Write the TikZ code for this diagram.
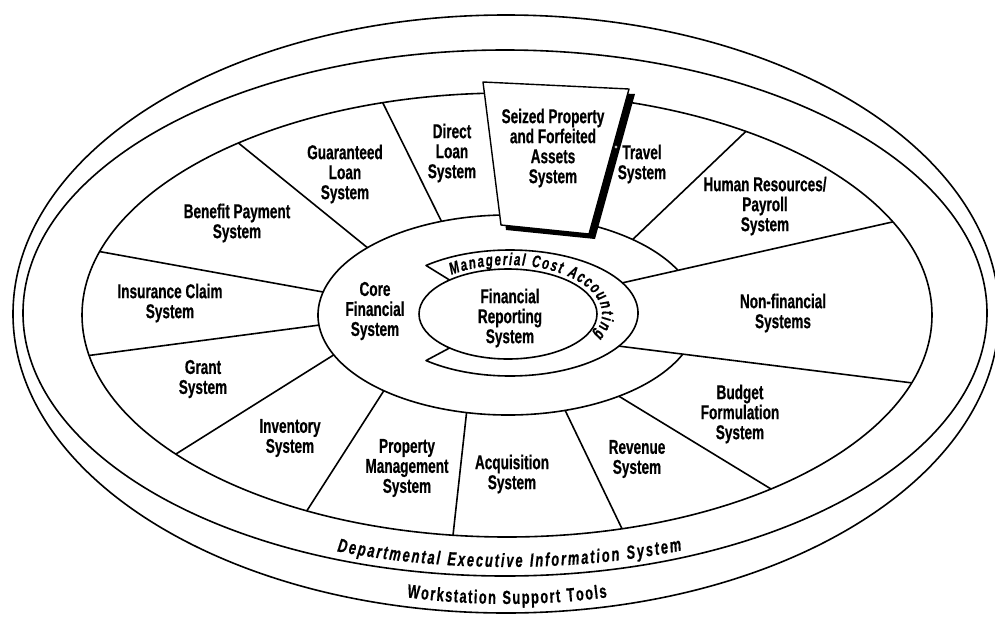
\documentclass[tikz,border=0pt]{standalone}
\usepackage{fontspec}
\newfontfamily\lblfam{Liberation Sans}[FakeStretch=0.68,FakeBold=0.6]
\usetikzlibrary{calc,decorations.text}
\newcommand\lblfont{\lblfam\bfseries\fontsize{20}{20}\selectfont}
\newcommand\mcafont{\lblfam\bfseries\itshape\fontsize{17}{17}\selectfont}
\newcommand\deptfont{\lblfam\bfseries\itshape\fontsize{19}{19}\selectfont}
\newcommand\wsfont{\lblfam\bfseries\fontsize{19}{19}\selectfont}
\begin{document}
\begin{tikzpicture}[x=1pt,y=-1pt,line width=1.6pt,line join=round,
  lbl/.style={align=center,font=\lblfont,inner sep=0pt},
  ring/.style={draw=black},
  boxshadow/.style={fill=black},
  boxface/.style={draw=black,fill=white,line width=1.4pt}]
\useasboundingbox (0,0) rectangle (995,616);
\clip (0,0) rectangle (995,616);

% centres
\coordinate (O1) at (506,314);
\coordinate (O2) at (505,313);
\coordinate (W) at (507,315);
\coordinate (C) at (508,315);
\coordinate (M) at (510,313);
\coordinate (F) at (508,314);

% outer rings
\draw[ring] (O1) ellipse[x radius=493, y radius=299];
\draw[ring] (O2) ellipse[x radius=482, y radius=263];
\draw[ring] (W) ellipse[x radius=425, y radius=222];

% core financial system (open on the right)
\draw[ring] ($(C)+(-26.8:190 and 100)$) coordinate (coreA)
  arc[start angle=-26.8, end angle=-336.5, x radius=190, y radius=100] coordinate (coreB);

% spokes: core ellipse to wedge ellipse
\foreach \a/\b/\n in {-166.7/-163.4/s1, -137.7/-129.2/s2, -110.5/-107/s3,
  -49/-55.8/s6, 54.3/51.6/s9, 72.5/74.3/s10, 102.6/97.3/s11,
  130.8/118.1/s12, 156.5/141.2/s13, 174.2/169.5/s14}
  \draw[ring] ($(C)+(\a:190 and 100)$) coordinate (\n i) -- ($(W)+(\b:425 and 222)$) coordinate (\n o);
% spokes of non-financial systems: MCA ellipse to wedge ellipse
\draw[ring] ($(M)+(-28.6:128 and 63)$) coordinate (s7i) -- ($(W)+(-24.8:425 and 222)$) coordinate (s7o);
\draw[ring] ($(M)+(31.7:128 and 63)$) coordinate (s8i) -- ($(W)+(17.8:425 and 222)$) coordinate (s8o);

% managerial cost accounting band
\draw[ring] ($(F)+(-131:89 and 45)$) coordinate (mcaA) -- ($(M)+(-131:128 and 63)$)
  arc[start angle=-131, end angle=131, x radius=128, y radius=63]
  -- ($(F)+(131:89 and 45)$) coordinate (mcaB);
\draw[ring] (F) ellipse[x radius=89, y radius=45];

% seized property box with shadow
\fill[boxshadow] (488,87) -- (635,94) -- (595,239) -- (506,230) -- cycle;
\draw[boxface] (483,82) coordinate (bTL) -- (629,89) coordinate (bTR) -- (589,234) coordinate (bBR) -- (501,225) coordinate (bBL) -- cycle;
\draw[fill=white,line width=0.6pt] (616,147) circle[radius=1.8];

% labels
\node[lbl] (seized) at (553,148) {Seized Property\\and Forfeited\\Assets\\System};
\node[lbl] (direct) at (452,153) {Direct\\Loan\\System};
\node[lbl] (travel) at (642,164) {Travel\\System};
\node[lbl] (guar) at (345,174) {Guaranteed\\Loan\\System};
\node[lbl] (benefit) at (237,223) {Benefit Payment\\System};
\node[lbl] (insur) at (170,303) {Insurance Claim\\System};
\node[lbl] (core) at (375,311) {Core\\Financial\\System};
\node[lbl] (frs) at (510,318) {Financial\\Reporting\\System};
\node[lbl] (hr) at (765,206) {Human Resources/\\Payroll\\System};
\node[lbl] (nonfin) at (783,313) {Non-financial\\Systems};
\node[lbl] (budget) at (740,414) {Budget\\Formulation\\System};
\node[lbl] (revenue) at (637,459) {Revenue\\System};
\node[lbl] (acq) at (512,474) {Acquisition\\System};
\node[lbl] (prop) at (407,468) {Property\\Management\\System};
\node[lbl] (inv) at (290,438) {Inventory\\System};
\node[lbl] (grant) at (203,379) {Grant\\System};

% curved texts
\path[decorate, decoration={text along path, text={|\mcafont|Managerial Cost Accounting}, text align=fit to path}]
  ($(F)+(-127:94 and 49)$) arc[start angle=-127, end angle=25, x radius=94, y radius=49];
\path[decorate, decoration={text along path, text={|\deptfont|Departmental Executive Information System}, text align=fit to path}]
  ($(W)+(110.3:490 and 252)$) arc[start angle=110.3, end angle=69.1, x radius=490, y radius=252];
\path[decorate, decoration={text along path, text={|\wsfont|Workstation Support Tools}, text align=fit to path}]
  ($(W)+(102.3:470 and 289)$) arc[start angle=102.3, end angle=77.7, x radius=470, y radius=289];
\end{tikzpicture}
\end{document}
